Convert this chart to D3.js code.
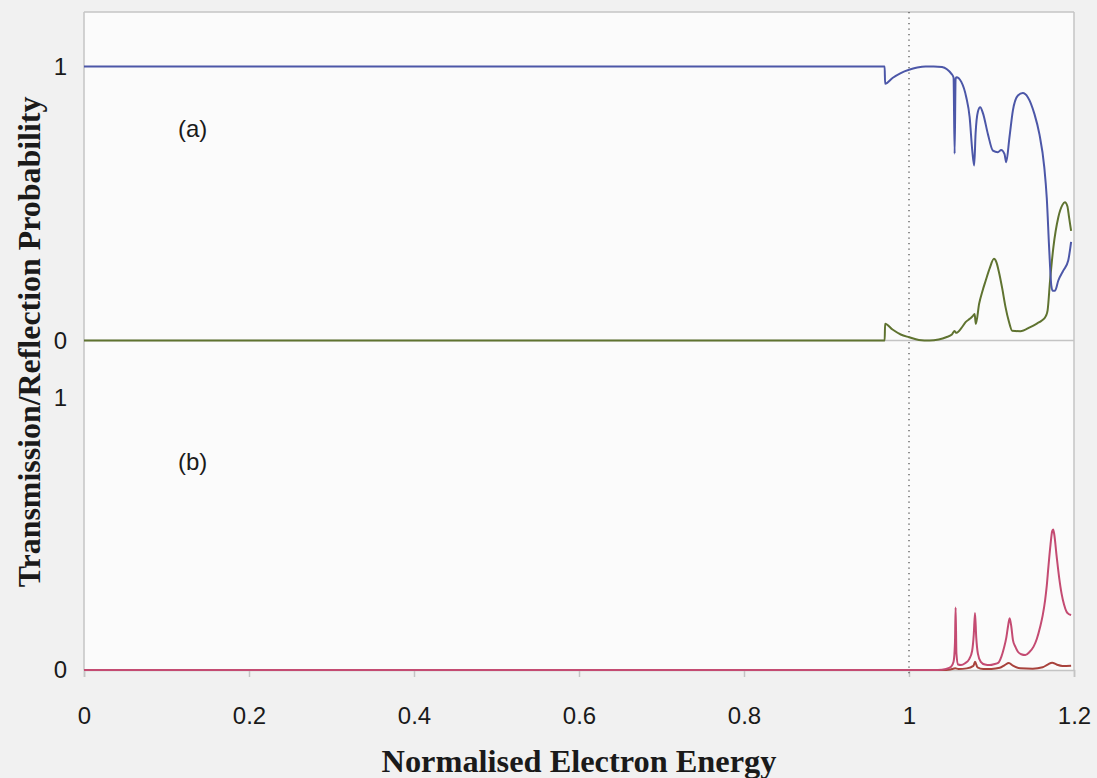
<!DOCTYPE html>
<html>
<head>
<meta charset="utf-8">
<script src="https://cdn.jsdelivr.net/npm/d3@7"></script>
<style>
  html, body { margin: 0; padding: 0; background: #f1f1f1; }
  svg { display: block; }
</style>
</head>
<body>
<svg id="chart" width="1097" height="778"></svg>
<script>
// Panel (a): channel-1 transmission and reflection
const energyTransA = [0, 0.9705, 0.971, 0.98, 0.99, 1.0, 1.01, 1.02, 1.03, 1.04, 1.046, 1.051, 1.054, 1.0553, 1.0565, 1.0575, 1.0634, 1.0694, 1.0735, 1.0767, 1.079, 1.0807, 1.0835, 1.0863, 1.0896, 1.0956, 1.1017, 1.1077, 1.1117, 1.1158, 1.1178, 1.1218, 1.1259, 1.132, 1.138, 1.144, 1.152, 1.158, 1.164, 1.167, 1.170, 1.1725, 1.174, 1.177, 1.181, 1.187, 1.193, 1.1965];
const transA = [1, 1, 0.937, 0.958, 0.976, 0.988, 0.996, 1.0, 1.0, 0.998, 0.99, 0.975, 0.96, 0.682, 0.955, 0.961, 0.944, 0.888, 0.815, 0.693, 0.639, 0.755, 0.835, 0.851, 0.83, 0.754, 0.693, 0.687, 0.695, 0.68, 0.651, 0.742, 0.839, 0.894, 0.903, 0.888, 0.827, 0.754, 0.632, 0.52, 0.33, 0.2, 0.182, 0.182, 0.219, 0.255, 0.292, 0.36];

const energyReflA = [0, 0.9705, 0.971, 0.98, 0.99, 1.0, 1.012, 1.025, 1.036, 1.045, 1.052, 1.0553, 1.057, 1.0634, 1.0686, 1.074, 1.0775, 1.0795, 1.081, 1.085, 1.089, 1.093, 1.098, 1.103, 1.106, 1.109, 1.113, 1.117, 1.121, 1.125, 1.135, 1.147, 1.155, 1.161, 1.166, 1.168, 1.171, 1.175, 1.181, 1.186, 1.189, 1.192, 1.194, 1.1965];
const reflA = [0, 0, 0.061, 0.04, 0.022, 0.012, 0.002, 0.0, 0.004, 0.012, 0.022, 0.035, 0.028, 0.045, 0.067, 0.08, 0.09, 0.097, 0.06, 0.134, 0.18, 0.219, 0.265, 0.298, 0.285, 0.25, 0.19, 0.122, 0.07, 0.036, 0.034, 0.049, 0.062, 0.073, 0.09, 0.11, 0.219, 0.34, 0.45, 0.495, 0.505, 0.49, 0.45, 0.40];

// Panel (b): scattering into the second channel
const energyTransB = [0, 1.035, 1.045, 1.051, 1.054, 1.0557, 1.0565, 1.0575, 1.0595, 1.063, 1.068, 1.073, 1.0765, 1.0785, 1.0800, 1.0815, 1.0835, 1.087, 1.092, 1.098, 1.104, 1.108, 1.112, 1.115, 1.118, 1.120, 1.122, 1.124, 1.126, 1.129, 1.132, 1.136, 1.141, 1.146, 1.151, 1.155, 1.159, 1.162, 1.165, 1.167, 1.169, 1.1715, 1.1735, 1.1747, 1.176, 1.179, 1.182, 1.185, 1.188, 1.191, 1.194, 1.1965];
const transB = [0, 0, 0.004, 0.012, 0.03, 0.1, 0.23, 0.06, 0.02, 0.018, 0.025, 0.04, 0.07, 0.13, 0.21, 0.12, 0.06, 0.03, 0.02, 0.018, 0.022, 0.026, 0.049, 0.08, 0.12, 0.16, 0.19, 0.16, 0.11, 0.085, 0.067, 0.058, 0.055, 0.066, 0.086, 0.115, 0.159, 0.2, 0.257, 0.31, 0.38, 0.46, 0.51, 0.517, 0.5, 0.417, 0.34, 0.28, 0.24, 0.214, 0.205, 0.202];

const energyReflB = [0, 1.04, 1.05, 1.056, 1.06, 1.07, 1.078, 1.08, 1.083, 1.09, 1.1, 1.11, 1.116, 1.121, 1.126, 1.135, 1.15, 1.162, 1.168, 1.1735, 1.179, 1.186, 1.1965];
const reflB = [0, 0, 0.002, 0.006, 0.004, 0.006, 0.015, 0.03, 0.01, 0.004, 0.004, 0.008, 0.018, 0.026, 0.016, 0.006, 0.005, 0.01, 0.02, 0.027, 0.02, 0.015, 0.016];

const xTicks = [0, 0.2, 0.4, 0.6, 0.8, 1, 1.2];
const yTicks = [0, 1];
const panelLabels = ["(a)", "(b)"];

const svg = d3.select("#chart");

const frame = { left: 84, right: 1074, top: 12, mid: 340.5, bottom: 670 };

const x = d3.scaleLinear().domain([0, 1.2]).range([frame.left, frame.right]);
const yA = d3.scaleLinear().domain([0, 1]).range([340.5, 66.5]);
const yB = d3.scaleLinear().domain([0, 1]).range([670, 398]);

// plot background
svg.append("rect")
  .attr("x", frame.left).attr("y", frame.top)
  .attr("width", frame.right - frame.left).attr("height", frame.bottom - frame.top)
  .attr("fill", "#fbfbfb");

const frameColor = "#c4c4c4";
const fg = svg.append("g").attr("stroke", frameColor).attr("stroke-width", 1.5).attr("fill", "none");
fg.append("line").attr("x1", frame.left).attr("x2", frame.right).attr("y1", frame.top).attr("y2", frame.top);
fg.append("line").attr("x1", frame.left).attr("x2", frame.left).attr("y1", frame.top).attr("y2", frame.bottom);
fg.append("line").attr("x1", frame.right).attr("x2", frame.right).attr("y1", frame.top).attr("y2", frame.bottom);
fg.append("line").attr("x1", frame.left).attr("x2", frame.right).attr("y1", frame.mid).attr("y2", frame.mid);

// x axis along the bottom of panel (b)
const xAxis = d3.axisBottom(x).tickValues(xTicks).tickSize(7).tickPadding(30)
  .tickFormat(d => d3.format("~g")(d));
const gx = svg.append("g").attr("transform", `translate(0,${frame.bottom})`).call(xAxis);
gx.select(".domain").attr("stroke", frameColor).attr("stroke-width", 1.5);
gx.selectAll(".tick line").attr("stroke", frameColor).attr("stroke-width", 1.5);
gx.selectAll(".tick text")
  .attr("font-family", "Liberation Sans, Arial, sans-serif")
  .attr("font-size", 24).attr("fill", "#1a1a1a");

// y axes for both panels (labels only)
function yLabels(scale) {
  const ax = d3.axisLeft(scale).tickValues(yTicks).tickSize(0).tickPadding(17)
    .tickFormat(d3.format("d"));
  const g = svg.append("g").attr("transform", `translate(${frame.left},0)`).call(ax);
  g.select(".domain").remove();
  g.selectAll(".tick text")
    .attr("font-family", "Liberation Sans, Arial, sans-serif")
    .attr("font-size", 24).attr("fill", "#1a1a1a");
}
yLabels(yA);
yLabels(yB);

// threshold marker at E = 1
svg.append("line")
  .attr("x1", x(1)).attr("x2", x(1))
  .attr("y1", frame.top).attr("y2", frame.bottom + 7)
  .attr("stroke", "#555").attr("stroke-width", 1.3)
  .attr("stroke-dasharray", "1.3,4.2");

// curves
function drawSeries(xs, ys, yScale, color, width) {
  const pts = xs.map((e, i) => [e, ys[i]]);
  const line = d3.line()
    .x(d => x(d[0])).y(d => yScale(d[1]))
    .curve(d3.curveMonotoneX);
  svg.append("path").datum(pts)
    .attr("d", line)
    .attr("fill", "none")
    .attr("stroke", color)
    .attr("stroke-width", width)
    .attr("stroke-linejoin", "round");
}
drawSeries(energyReflA, reflA, yA, "#5f7330", 2);
drawSeries(energyTransA, transA, yA, "#4c57a8", 2);
drawSeries(energyReflB, reflB, yB, "#a8423c", 2);
drawSeries(energyTransB, transB, yB, "#c44b72", 2);

// panel labels
svg.selectAll("text.panel").data(panelLabels).enter().append("text")
  .attr("class", "panel")
  .attr("x", 178)
  .attr("y", (d, i) => i === 0 ? 137 : 470)
  .attr("font-family", "Liberation Sans, Arial, sans-serif")
  .attr("font-size", 24).attr("fill", "#1a1a1a")
  .text(d => d);

// axis titles, scaled to their drawn extents
function fitText(sel, targetWidth) {
  const w = sel.node().getComputedTextLength();
  const fs = parseFloat(sel.attr("font-size"));
  sel.attr("font-size", fs * targetWidth / w);
}
const xTitle = svg.append("text")
  .attr("x", 579).attr("y", 772)
  .attr("text-anchor", "middle")
  .attr("font-family", "Liberation Serif, Times New Roman, serif")
  .attr("font-weight", "bold").attr("font-size", 26).attr("fill", "#1a1a1a")
  .text("Normalised Electron Energy");
fitText(xTitle, 395);

const yTitle = svg.append("text")
  .attr("transform", "translate(40,342) rotate(-90)")
  .attr("text-anchor", "middle")
  .attr("font-family", "Liberation Serif, Times New Roman, serif")
  .attr("font-weight", "bold").attr("font-size", 26).attr("fill", "#1a1a1a")
  .text("Transmission/Reflection Probability");
fitText(yTitle, 491);
</script>
</body>
</html>
